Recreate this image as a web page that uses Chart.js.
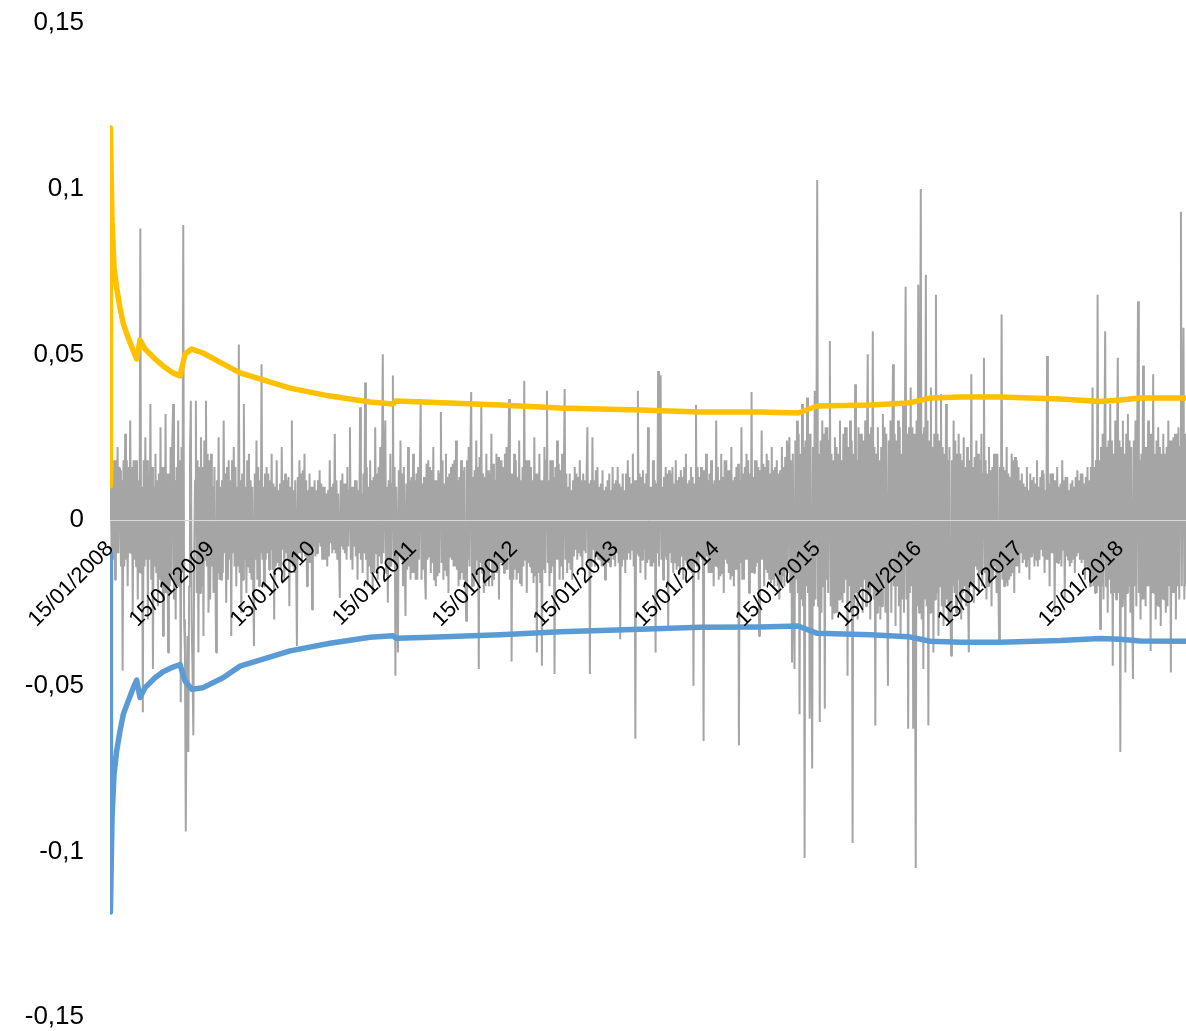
<!DOCTYPE html>
<html><head><meta charset="utf-8">
<script src="https://cdn.jsdelivr.net/npm/chart.js@4.4.0/dist/chart.umd.min.js"></script>
<style>html,body{margin:0;padding:0;background:#fff;}#wrap{width:1186px;height:1031px;position:relative;}</style>
</head><body><div id="wrap"><canvas id="c"></canvas></div>
<script>
// x values are years after 15/01/2008
const startYear = 2008;
const tickYears = [0,1,2,3,4,5,6,7,8,9,10];
const yTicks = [-0.15,-0.1,-0.05,0,0.05,0.1,0.15];
const returnsStep = 1/120; // years between plotted return samples
const returns = [
 0,0.01,-0.012, 0.012,-0.012,0.018, -0.018,0.018,-0.01, 0.022,-0.01,0.016, 0.015,-0.014,0.012, -0.0455,0.018,-0.014, 0.026,-0.012,0.018, -0.02,0.016,-0.01, 0.03,-0.01,0.016, -0.028,0.018,-0.012,
 0.018,-0.014,0.018, -0.024,0.012,-0.016, 0.088,-0.016,0.01, -0.058,0.018,-0.014, 0.025,-0.012,0.018, -0.03,0.014,-0.012, 0.035,-0.018,0.016, -0.045,0.01,-0.014, 0.02,-0.016,0.012, -0.026,0.014,-0.018,
 0.028,-0.02,0.016, -0.035,0.016,-0.022, 0.032,-0.022,0.014, -0.04,0.014,-0.02, 0.022,-0.018,0.024, 0.035,-0.024,0.012, -0.03,0.016,-0.02, 0.03,-0.02,0.018, -0.055,0.022,-0.016, 0.089,-0.03,-0.04,
 -0.094,-0.05,-0.035, -0.07,-0.02,0.02, 0.036,-0.03,-0.045, -0.065,-0.01,0.012, 0.036,-0.022,0.018, -0.04,0.016,-0.022, 0.025,-0.02,0.016, -0.035,0.024,-0.012, 0.036,-0.014,0.02, -0.028,0.018,-0.024,
 0.02,-0.014,0.01, -0.022,0.016,-0.012, -0.04,0.012,-0.016, 0.025,-0.018,0.01, -0.018,0.012,-0.016, 0.03,-0.01,0.014, -0.025,0.016,-0.018, 0.018,-0.012,0.012, -0.035,0.018,-0.01, 0.022,-0.014,0.016,
 -0.02,0.01,-0.014, 0.053,-0.016,0.012, -0.028,0.014,-0.018, 0.035,-0.012,0.01, -0.022,0.018,-0.014, 0.02,-0.016,0.012, -0.018,0.01,-0.016, -0.038,0.014,-0.012, 0.024,-0.018,0.016, -0.02,0.012,-0.01,
 0.047,-0.012,0.01, -0.02,0.014,-0.012, 0.016,-0.01,0.014, -0.015,0.012,-0.009, 0.02,-0.015,0.011, -0.03,0.01,-0.014, 0.018,-0.013,0.009, -0.014,0.011,-0.015, 0.022,-0.009,0.012, -0.018,0.014,-0.01,
 0.012,-0.012,0.013, -0.026,0.01,-0.012, 0.03,-0.014,0.009, -0.016,0.012,-0.011, -0.038,0.013,-0.01, 0.018,-0.01,0.014, -0.012,0.015,-0.009, 0.02,-0.011,0.012, -0.02,0.009,-0.013, 0.014,-0.013,0.01,
 -0.027,0.01,-0.008, 0.012,-0.011,0.009, -0.01,0.012,-0.007, 0.015,-0.008,0.011, -0.012,0.01,-0.012, 0.01,-0.012,0.008, -0.014,0.009,-0.011, 0.018,-0.007,0.01, -0.01,0.011,-0.009, 0.026,-0.01,0.012,
 -0.012,0.008,-0.01, -0.0235,0.012,-0.008, 0.014,-0.009,0.011, -0.01,0.011,-0.012, 0.016,-0.008,0.009, 0.028,-0.012,0.01, -0.015,0.01,-0.008, 0.012,-0.011,0.012, -0.018,0.009,-0.01, 0.034,-0.012,0.008,
 -0.016,0.014,-0.01, 0.0415,-0.012,0.016, -0.02,0.01,-0.014, 0.018,-0.016,0.012, -0.022,0.013,-0.016, 0.028,-0.01,0.014, -0.018,0.016,-0.011, 0.022,-0.013,0.015, 0.05,-0.01,0.012, 0.03,-0.016,0.01,
 -0.025,0.012,-0.015, 0.02,-0.014,0.011, 0.0436,-0.012,0.016, -0.047,0.01,-0.013, -0.04,0.015,-0.011, 0.024,-0.012,0.014, -0.02,0.016,-0.012, -0.029,0.011,-0.015, 0.022,-0.014,0.012, -0.018,0.013,-0.016,
 0.02,-0.016,0.012, -0.018,0.014,-0.018, 0.016,-0.012,0.015, 0.0365,-0.018,0.011, -0.015,0.013,-0.016, -0.024,0.017,-0.012, 0.018,-0.011,0.016, -0.016,0.015,-0.013, 0.022,-0.018,0.012, -0.02,0.012,-0.017,
 0.015,-0.016,0.014, 0.0326,-0.013,0.018, -0.018,0.011,-0.015, 0.02,-0.017,0.013, -0.022,0.014,-0.011, 0.016,-0.012,0.017, -0.014,0.018,-0.014, 0.024,-0.015,0.012, -0.02,0.013,-0.018, 0.018,-0.016,0.015,
 -0.018,0.016,-0.014, -0.0305,0.018,-0.012, 0.022,-0.014,0.02, 0.0386,-0.02,0.013, -0.02,0.015,-0.018, 0.024,-0.012,0.016, -0.045,0.019,-0.013, 0.035,-0.016,0.014, -0.022,0.013,-0.02, 0.02,-0.018,0.015,
 -0.02,0.014,-0.012, 0.026,-0.02,0.017, -0.018,0.012,-0.016, 0.02,-0.016,0.019, -0.024,0.018,-0.013, 0.018,-0.013,0.016, -0.016,0.02,-0.015, 0.022,-0.015,0.012, 0.0365,-0.018,0.014, -0.0427,0.014,-0.018,
 0.02,-0.015,0.018, -0.018,0.013,-0.016, 0.024,-0.019,0.012, -0.02,0.016,-0.014, 0.042,-0.012,0.018, -0.022,0.018,-0.013, 0.018,-0.014,0.016, -0.016,0.012,-0.019, 0.025,-0.017,0.014, -0.04,0.014,-0.016,
 0.02,-0.019,0.012, -0.044,0.012,-0.015, 0.022,-0.016,0.018, 0.039,-0.013,0.012, -0.02,0.018,-0.016, 0.018,-0.014,0.013, -0.0465,0.016,-0.012, 0.024,-0.012,0.017, -0.018,0.015,-0.014, 0.02,-0.018,0.012,
 0.0395,-0.012,0.014, -0.016,0.01,-0.013, 0.014,-0.015,0.009, -0.018,0.012,-0.011, 0.016,-0.009,0.014, -0.012,0.013,-0.01, 0.018,-0.011,0.012, -0.015,0.014,-0.009, 0.012,-0.01,0.013, 0.028,-0.013,0.011,
 -0.0465,0.012,-0.014, 0.025,-0.009,0.012, -0.014,0.015,-0.011, 0.016,-0.012,0.01, -0.012,0.011,-0.014, 0.015,-0.014,0.009, -0.018,0.01,-0.012, 0.012,-0.013,0.014, -0.014,0.009,-0.01, 0.016,-0.012,0.011,
 -0.014,0.012,-0.01, 0.016,-0.013,0.011, -0.036,0.01,-0.014, 0.014,-0.012,0.009, -0.016,0.014,-0.012, 0.018,-0.01,0.013, -0.012,0.011,-0.009, 0.02,-0.014,0.012, -0.066,0.012,-0.01, 0.039,-0.011,0.014,
 -0.016,0.013,-0.012, 0.015,-0.009,0.011, -0.018,0.014,-0.013, 0.028,-0.012,0.01, -0.014,0.01,-0.014, 0.018,-0.013,0.012, -0.04,0.011,-0.01, 0.045,-0.014,0.013, 0.0437,-0.012,0.01, -0.018,0.013,-0.011,
 0.016,-0.012,0.014, -0.032,0.015,-0.01, 0.014,-0.013,0.016, -0.016,0.011,-0.013, 0.018,-0.015,0.012, -0.014,0.013,-0.016, 0.015,-0.011,0.013, -0.018,0.016,-0.012, 0.02,-0.013,0.011, -0.015,0.012,-0.015,
 0.016,-0.016,0.013, -0.05,0.011,-0.012, 0.0347,-0.014,0.016, -0.018,0.013,-0.011, 0.016,-0.012,0.015, -0.0667,0.015,-0.013, 0.02,-0.011,0.012, -0.016,0.014,-0.016, 0.018,-0.016,0.011, -0.02,0.012,-0.014,
 0.03,-0.014,0.016, -0.018,0.012,-0.017, 0.02,-0.016,0.013, -0.022,0.018,-0.012, 0.018,-0.013,0.015, -0.016,0.015,-0.018, 0.022,-0.017,0.012, -0.02,0.013,-0.015, 0.016,-0.015,0.017, -0.068,0.012,-0.013,
 0.028,-0.018,0.014, -0.018,0.016,-0.012, 0.02,-0.012,0.018, -0.022,0.014,-0.016, 0.0386,-0.016,0.013, -0.016,0.018,-0.014, 0.018,-0.013,0.016, -0.035,0.015,-0.012, 0.027,-0.012,0.017, -0.02,0.016,-0.015,
 0.02,-0.016,0.018, -0.018,0.014,-0.019, 0.022,-0.018,0.015, -0.02,0.016,-0.017, 0.018,-0.02,0.014, -0.024,0.015,-0.019, 0.022,-0.017,0.016, -0.02,0.019,-0.015, 0.024,-0.016,0.02, 0.025,-0.022,0.018,
 -0.043,0.02,-0.024, -0.045,0.024,-0.018, 0.03,-0.022,0.026, -0.0586,0.02,-0.024, 0.035,-0.026,0.022, -0.102,0.024,-0.02, 0.037,-0.022,0.026, -0.06,0.026,-0.024, -0.075,0.022,-0.026, 0.039,-0.024,0.02,
 0.1026,-0.026,0.02, -0.061,0.024,-0.028, 0.03,-0.02,0.026, -0.057,0.028,-0.018, 0.028,-0.022,0.024, 0.054,-0.026,0.02, -0.03,0.018,-0.028, 0.025,-0.028,0.022, -0.028,0.02,-0.024, 0.03,-0.024,0.018,
 -0.025,0.026,-0.022, 0.028,-0.018,0.028, -0.047,0.022,-0.02, 0.03,-0.028,0.024, -0.0975,0.02,-0.026, 0.041,-0.022,0.018, -0.03,0.028,-0.022, 0.026,-0.02,0.026, -0.028,0.024,-0.018, 0.03,-0.026,0.022,
 0.05,-0.022,0.026, -0.03,0.028,-0.02, 0.057,-0.024,0.022, -0.062,0.02,-0.028, 0.028,-0.026,0.018, -0.03,0.022,-0.026, 0.032,-0.018,0.028, -0.028,0.026,-0.022, -0.05,0.024,-0.018, 0.03,-0.028,0.022,
 0.047,-0.02,0.026, -0.032,0.024,-0.02, 0.03,-0.026,0.028, -0.035,0.02,-0.024, 0.035,-0.028,0.022, 0.0704,-0.024,0.026, -0.063,0.028,-0.022, 0.04,-0.02,0.028, -0.063,0.026,-0.024, -0.105,0.03,-0.026,
 0.071,-0.028,0.024, 0.0999,-0.03,0.026, -0.045,0.028,-0.024, 0.074,-0.026,0.03, -0.062,0.024,-0.028, 0.04,-0.028,0.022, -0.04,0.026,-0.024, 0.068,-0.022,0.026, -0.035,0.024,-0.02, 0.038,-0.026,0.022,
 -0.032,0.02,-0.026, 0.035,-0.024,0.018, -0.03,0.022,-0.024, -0.041,0.018,-0.02, 0.03,-0.022,0.024, -0.028,0.02,-0.018, 0.026,-0.024,0.02, -0.03,0.018,-0.022, 0.025,-0.02,0.016, -0.026,0.022,-0.018,
 -0.04,0.018,-0.02, 0.044,-0.02,0.016, -0.025,0.019,-0.014, 0.024,-0.015,0.02, -0.022,0.018,-0.016, 0.026,-0.02,0.014, 0.049,-0.016,0.018, -0.024,0.014,-0.02, 0.022,-0.019,0.015, -0.026,0.016,-0.018,
 0.02,-0.014,0.02, -0.022,0.02,-0.015, -0.0365,0.016,-0.013, 0.062,-0.018,0.016, -0.02,0.015,-0.019, 0.022,-0.02,0.014, -0.018,0.013,-0.017, 0.02,-0.016,0.018, -0.022,0.019,-0.014, 0.018,-0.014,0.016,
 -0.016,0.012,-0.01, 0.014,-0.013,0.011, -0.012,0.01,-0.014, 0.016,-0.012,0.009, -0.018,0.014,-0.011, 0.012,-0.01,0.013, -0.014,0.011,-0.012, 0.018,-0.014,0.01, -0.012,0.013,-0.009, 0.015,-0.011,0.014,
 -0.016,0.009,-0.012, 0.0495,-0.012,0.011, -0.02,0.014,-0.01, 0.014,-0.01,0.012, -0.028,0.012,-0.013, 0.016,-0.013,0.01, -0.012,0.011,-0.014, 0.018,-0.009,0.012, -0.024,0.013,-0.011, 0.013,-0.012,0.009,
 -0.014,0.011,-0.013, 0.012,-0.012,0.01, -0.016,0.013,-0.011, 0.015,-0.01,0.012, -0.012,0.014,-0.013, 0.014,-0.012,0.011, -0.018,0.013,-0.014, 0.016,-0.015,0.012, -0.02,0.016,-0.018, 0.04,-0.02,0.016,
 -0.022,0.018,-0.022, 0.068,-0.02,0.018, -0.033,0.022,-0.02, 0.026,-0.024,0.018, 0.057,-0.02,0.022, -0.028,0.024,-0.018, 0.035,-0.022,0.024, -0.044,0.02,-0.022, 0.03,-0.024,0.02, 0.049,-0.022,0.024,
 -0.07,0.022,-0.026, 0.03,-0.024,0.02, -0.046,0.026,-0.022, 0.032,-0.02,0.024, -0.028,0.022,-0.026, -0.048,0.024,-0.02, 0.03,-0.026,0.022, 0.066,-0.022,0.018, -0.03,0.02,-0.024, 0.0466,-0.024,0.022,
 -0.026,0.022,-0.02, 0.03,-0.02,0.026, -0.0395,0.026,-0.022, 0.044,-0.022,0.02, -0.03,0.024,-0.026, 0.028,-0.026,0.022, -0.032,0.02,-0.024, 0.026,-0.024,0.02, -0.028,0.022,-0.026, 0.03,-0.02,0.024,
 -0.046,0.024,-0.022, 0.025,-0.022,0.026, -0.03,0.026,-0.02, 0.028,-0.024,0.022, 0.093,-0.02,0.024, 0.058,-0.024,0.026, -0.02
];
const bandT = [0, 0.004, 0.02, 0.04, 0.066, 0.099, 0.132, 0.181, 0.231, 0.264, 0.297, 0.347, 0.446, 0.525, 0.624, 0.693, 0.743, 0.809, 0.921, 1.119, 1.287, 1.515, 1.782, 2.178, 2.574, 2.80, 2.83, 3.1, 3.861, 4.455, 5.248, 5.842, 6.436, 6.81, 7.0, 7.525, 7.9, 8.119, 8.416, 8.812, 9.406, 9.8, 10.0, 10.198, 10.65];
const upperBand = [0.0103, 0.1183, 0.0902, 0.0761, 0.070, 0.064, 0.0592, 0.0549, 0.051, 0.0486, 0.0543, 0.0516, 0.0486, 0.0465, 0.0444, 0.0435, 0.0501, 0.0516, 0.0504, 0.0471, 0.0444, 0.0423, 0.0398, 0.0374, 0.0356, 0.0350, 0.0359, 0.0356, 0.0347, 0.0338, 0.0332, 0.0326, 0.0326, 0.0323, 0.0344, 0.0347, 0.0353, 0.0368, 0.0371, 0.0371, 0.0365, 0.0358, 0.0362, 0.0368, 0.0368];
const lowerBand = [-0.0103, -0.1183, -0.0898, -0.0767, -0.0697, -0.0637, -0.0586, -0.0546, -0.0506, -0.0483, -0.0536, -0.0506, -0.0476, -0.0458, -0.0444, -0.0436, -0.0486, -0.0511, -0.0506, -0.0476, -0.0441, -0.042, -0.0395, -0.0372, -0.0354, -0.0349, -0.0357, -0.0355, -0.0346, -0.0337, -0.0330, -0.0324, -0.0323, -0.0320, -0.0342, -0.0346, -0.0352, -0.0366, -0.0369, -0.0369, -0.0364, -0.0358, -0.0360, -0.0365, -0.0366];

const FONT = "'Liberation Sans', Arial, sans-serif";
const fmt = v => { const r = Math.round(v*100)/100; return (Object.is(r,-0)?0:r).toString().replace('.', ','); };

new Chart(document.getElementById('c'), {
  type: 'line',
  data: {
    datasets: [
      { label: 'upper', data: bandT.map((t,i)=>({x:t, y:upperBand[i]})), borderColor:'#FFC000', borderWidth:5.5, pointRadius:0, borderJoinStyle:'round', borderCapStyle:'round', order:1 },
      { label: 'lower', data: bandT.map((t,i)=>({x:t, y:lowerBand[i]})), borderColor:'#5B9BD5', borderWidth:5.5, pointRadius:0, borderJoinStyle:'round', borderCapStyle:'round', order:2 },
      { label: 'returns', data: returns.map((v,i)=>({x:i*returnsStep, y:v})), borderColor:'#A5A5A5', borderWidth:2, pointRadius:0, borderJoinStyle:'bevel', order:3 }
    ]
  },
  options: {
    responsive: true, maintainAspectRatio: false, animation: false, devicePixelRatio: 1,
    layout: { padding: { top: 23, bottom: 14, left: 0, right: 0 } },
    plugins: { legend: { display: false }, tooltip: { enabled: false } },
    scales: {
      x: {
        type: 'linear', position: { y: 0 }, min: 0, max: (returns.length-1)*returnsStep,
        grid: { display: false, drawTicks: false },
        border: { display: true, color: '#D9D9D9', width: 1, z: 1 },
        afterBuildTicks: s => { s.ticks = tickYears.map(v => ({ value: v })); },
        afterFit: s => { s.height = 0; },
        ticks: { z: 1, autoSkip: false, minRotation: 45, maxRotation: 45, padding: 16, color: '#000',
          font: { family: FONT, size: 22 }, callback: v => '15/01/' + (startYear + Math.round(v)) }
      },
      y: {
        min: -0.15, max: 0.15,
        grid: { display: false, drawTicks: false },
        border: { display: false },
        afterBuildTicks: s => { s.ticks = yTicks.map(v => ({ value: v })); },
        afterFit: s => { s.width = 110; s.paddingTop = 0; s.paddingBottom = 0; },
        ticks: { padding: 26, color: '#000', font: { family: FONT, size: 26 }, callback: v => fmt(v) }
      }
    }
  }
});
</script></body></html>
